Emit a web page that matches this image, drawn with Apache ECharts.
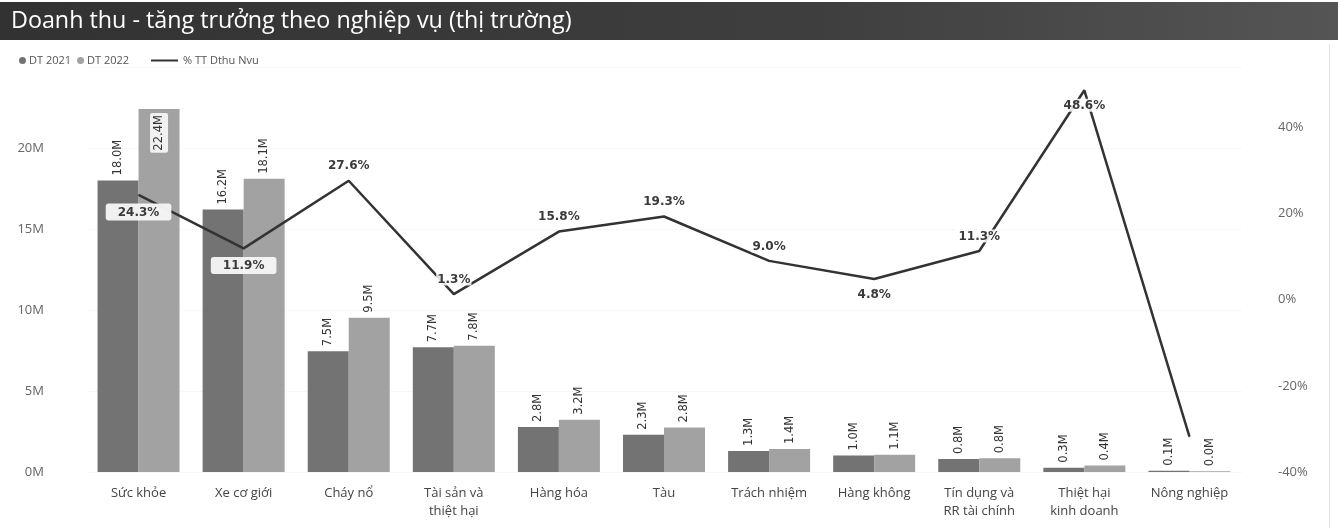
<!DOCTYPE html>
<html>
<head>
<meta charset="utf-8">
<script src="https://cdn.jsdelivr.net/npm/echarts@6/dist/echarts.min.js"></script>
<style>
html,body{margin:0;padding:0;background:#fff;}
#c{width:1338px;height:528px;}
</style>
</head>
<body>
<div id="c"></div>
<script>
var categories = ['Sức khỏe','Xe cơ giới','Cháy nổ','Tài sản và\nthiệt hại','Hàng hóa','Tàu','Trách nhiệm','Hàng không','Tín dụng và\nRR tài chính','Thiệt hại\nkinh doanh','Nông nghiệp'];
var dt2021 = [18.0, 16.2, 7.46, 7.7, 2.78, 2.3, 1.3, 1.02, 0.8, 0.27, 0.07];
var dt2022 = [22.4, 18.1, 9.52, 7.8, 3.22, 2.75, 1.42, 1.07, 0.85, 0.4, 0.048];
var growth = [24.3, 11.9, 27.6, 1.3, 15.8, 19.3, 9.0, 4.8, 11.3, 48.6, -31.8];
var leftTicks = [0, 5, 10, 15, 20];
var rightTicks = [-40, -20, 0, 20, 40];

var growthLabelPlace = ['bottom','bottom','top','top','top','top','top','bottom','top','bottom','none'];
var boxed = [true, true];

var chart = echarts.init(document.getElementById('c'), null, {renderer:'canvas'});

var barLabel = {
  show: true, position: 'top', rotate: 90, align: 'left', verticalAlign: 'middle',
  distance: 5, fontFamily: 'DejaVu Sans', fontSize: 11.5, color: '#333',
  formatter: function(p){ return p.value.toFixed(1) + 'M'; }
};

var d22 = dt2022.map(function(v, i){
  if (i === 0) {
    return {value: v, label: {position: 'insideTop', align: 'right', distance: 4,
      backgroundColor: 'rgba(245,245,245,0.95)', padding: [3, 2, 3, 2], borderRadius: 2}};
  }
  return v;
});

var gData = growth.map(function(v, i){
  var pl = growthLabelPlace[i];
  if (pl === 'none') return {value: v, label: {show: false}};
  var lab = {show: true, position: pl};
  if (boxed[i]) {
    lab.backgroundColor = 'rgba(246,246,246,0.96)';
    lab.padding = [3, 12, 2, 12];
    lab.borderRadius = 3;
  }
  return {value: v, label: lab};
});

chart.setOption({
  animation: false,
  backgroundColor: '#fff',
  graphic: [
    {type: 'rect', left: 0, top: 2, shape: {width: 1338, height: 38}, z: 0,
      style: {fill: new echarts.graphic.LinearGradient(0, 0, 1, 0, [
        {offset: 0, color: '#323232'}, {offset: 0.6, color: '#3e3e3e'}, {offset: 1, color: '#555'}])}},
    {type: 'rect', left: 1329, top: 44, shape: {width: 1, height: 484}, style: {fill: '#e2e2e2'}}
  ],
  title: {
    text: 'Doanh thu - tăng trưởng theo nghiệp vụ (thị trường)',
    left: 6, top: 5,
    textStyle: {color: '#fff', fontFamily: 'Open Sans', fontSize: 23.3, fontWeight: 'normal'}
  },
  legend: [
    {data: [{name: 'DT 2021', icon: 'circle'}, {name: 'DT 2022', icon: 'circle'}],
      left: 14, top: 50, itemWidth: 7, itemHeight: 7, itemGap: 6,
      textStyle: {fontFamily: 'Open Sans', fontSize: 11, color: '#555', padding: [0,0,0,-2]}},
    {data: [{name: '% TT Dthu Nvu', icon: 'rect'}],
      left: 146, top: 50, itemWidth: 27, itemHeight: 2,
      textStyle: {fontFamily: 'Open Sans', fontSize: 11, color: '#555'}}
  ],
  grid: {left: 86, right: 96, top: 67, bottom: 56},
  xAxis: {
    type: 'category', data: categories,
    axisLine: {show: false}, axisTick: {show: false},
    axisLabel: {interval: 0, margin: 12, fontFamily: 'Open Sans', fontSize: 13, color: '#444', lineHeight: 18}
  },
  yAxis: [
    {type: 'value', min: 0, max: 25, interval: 5, position: 'left',
      axisLine: {show: false}, axisTick: {show: false},
      splitLine: {show: true, lineStyle: {color: '#f2f2f2', type: 'dotted'}},
      axisLabel: {margin: 42, fontFamily: 'Open Sans', fontSize: 13, color: '#666',
        formatter: function(v){ return leftTicks.indexOf(v) >= 0 ? v + 'M' : ''; }}},
    {type: 'value', min: -40, max: 54, interval: 20, position: 'right',
      axisLine: {show: false}, axisTick: {show: false}, splitLine: {show: false},
      axisLabel: {margin: 36, fontFamily: 'Open Sans', fontSize: 13, color: '#666',
        formatter: function(v){ return rightTicks.indexOf(v) >= 0 ? v + '%' : ''; }}}
  ],
  series: [
    {name: 'DT 2021', type: 'bar', data: dt2021, barWidth: 41, barGap: '0%',
      itemStyle: {color: '#737373'}, label: barLabel, z: 2},
    {name: 'DT 2022', type: 'bar', data: d22, barWidth: 41,
      itemStyle: {color: '#a2a2a2'}, label: barLabel, z: 2},
    {name: '% TT Dthu Nvu', type: 'line', yAxisIndex: 1, data: gData,
      symbol: 'circle', symbolSize: 1, showSymbol: true, itemStyle: {color: '#333'},
      lineStyle: {color: '#333', width: 2.5}, z: 5,
      label: {show: true, position: 'top', distance: 8, fontFamily: 'DejaVu Sans', fontSize: 12,
        fontWeight: 'bold', color: '#3a3a3a', backgroundColor: 'rgba(255,255,255,0.85)', padding: [1, 1, 0, 1],
        formatter: function(p){ return p.value.toFixed(1) + '%'; }}}
  ]
});
</script>
</body>
</html>
